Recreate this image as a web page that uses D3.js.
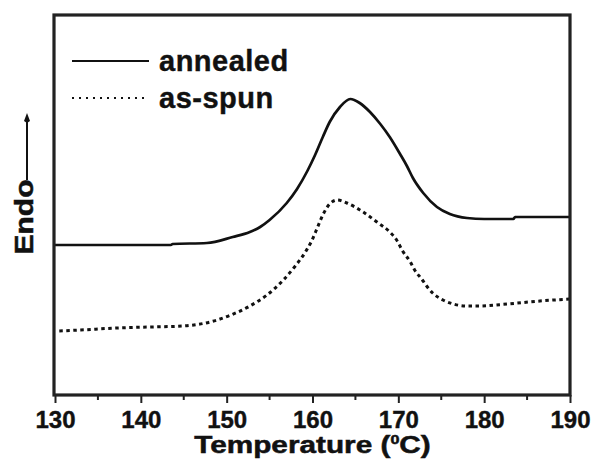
<!DOCTYPE html>
<html>
<head>
<meta charset="utf-8">
<script src="https://cdn.jsdelivr.net/npm/d3@7"></script>
<style>
  body { margin: 0; background: #fff; }
  text { font-family: "Liberation Sans", Arial, sans-serif; font-weight: bold; fill: #111; }
</style>
</head>
<body>
<div id="dsc"></div>
<script>
// annealed curve (temperature, signal in arbitrary units)
let annealedT = [130, 136, 143.5, 143.7, 147.7, 150.7, 152.7, 153.9, 155.0, 157.0, 158.2, 159.4, 160.3, 161.2, 162.0, 163.2, 164.4, 165.5, 166.7, 167.9, 169.0, 170.2, 171.0, 171.7, 172.9, 174.5, 176.0, 178.0, 180.0, 183.4, 183.6, 186, 190];
let annealedV = [15.0, 15.0, 15.0, 15.1, 15.2, 15.8, 16.3, 16.8, 17.5, 19.2, 20.6, 22.4, 24.0, 25.8, 27.3, 28.8, 29.6, 29.2, 28.3, 27.1, 25.8, 24.1, 22.9, 21.7, 20.2, 18.8, 18.1, 17.7, 17.6, 17.6, 17.8, 17.8, 17.8];

// as-spun curve
let asSpunT = [130.5, 133, 137.2, 141, 144.9, 148.9, 150.5, 152.7, 154.7, 156.6, 158.0, 159.1, 159.9, 160.6, 161.2, 162.0, 162.9, 164.0, 165.9, 167.5, 169.0, 169.8, 170.5, 171.4, 171.9, 172.8, 173.3, 174.0, 175.2, 176.4, 178.0, 179.2, 182.7, 186.5, 190];
let asSpunV = [6.4, 6.5, 6.7, 6.8, 6.9, 7.5, 8.0, 8.9, 10.0, 11.5, 12.9, 14.2, 15.4, 16.8, 18.0, 19.1, 19.5, 19.2, 18.3, 17.3, 16.3, 15.5, 14.4, 13.3, 12.5, 11.5, 10.9, 10.2, 9.5, 9.1, 8.9, 8.9, 9.1, 9.4, 9.6];

let majorTicks = [130, 140, 150, 160, 170, 180, 190];
let minorTicks = [135, 145, 155, 165, 175, 185];
let seriesNames = ["annealed", "as-spun"];

let width = 592, height = 467;
let margin = ({top: 15, right: 22, bottom: 72, left: 55});

let x = d3.scaleLinear()
  .domain([130, 190])
  .range([margin.left, width - margin.right]);

let y = d3.scaleLinear()
  .domain([0, 38])
  .range([height - margin.bottom, margin.top]);

const svg = d3.select("#dsc").append("svg")
  .attr("width", width)
  .attr("height", height)
  .attr("viewBox", [0, 0, width, height]);

let line = d3.line()
  .x(d => x(d[0]))
  .y(d => y(d[1]))
  .curve(d3.curveMonotoneX);

let annealed = annealedT.map((t, i) => [t, annealedV[i]]);
let asSpun = asSpunT.map((t, i) => [t, asSpunV[i]]);

svg.append("path")
  .datum(annealed)
  .attr("fill", "none")
  .attr("stroke", "#111")
  .attr("stroke-width", 2.7)
  .attr("d", line);

svg.append("path")
  .datum(asSpun)
  .attr("fill", "none")
  .attr("stroke", "#111")
  .attr("stroke-width", 3)
  .attr("stroke-dasharray", "3.5,3.5")
  .attr("d", line);

// frame
svg.append("rect")
  .attr("x", x(130) - 1)
  .attr("y", y(38))
  .attr("width", x(190) - x(130) + 1)
  .attr("height", y(0) - y(38))
  .attr("fill", "none")
  .attr("stroke", "#222")
  .attr("stroke-width", 3.2);

// x axis
let xAxis = svg.append("g")
  .attr("transform", `translate(0,${y(0)})`)
  .call(d3.axisBottom(x).tickValues(majorTicks).tickSize(8).tickPadding(8).tickFormat(d3.format("d")))
  .call(g => g.select(".domain").remove());
xAxis.selectAll("line").attr("stroke", "#222").attr("stroke-width", 2);
xAxis.selectAll("text")
  .attr("font-size", "24px")
  .attr("font-family", "Liberation Sans, Arial, sans-serif")
  .attr("font-weight", "bold")
  .attr("fill", "#111")
  .attr("stroke", "#111")
  .attr("stroke-width", 0.4);

svg.append("g")
  .attr("transform", `translate(0,${y(0)})`)
  .selectAll("line")
  .data(minorTicks)
  .join("line")
    .attr("x1", d => x(d))
    .attr("x2", d => x(d))
    .attr("y1", 0)
    .attr("y2", 5)
    .attr("stroke", "#222")
    .attr("stroke-width", 2);

// x title
let xt = svg.append("text")
  .attr("transform", `translate(${(x(130) + x(190)) / 2},453) scale(1.24,1)`)
  .attr("text-anchor", "middle")
  .attr("font-size", "24px")
  .attr("stroke", "#111")
  .attr("stroke-width", 0.5);
xt.append("tspan").text("Temperature (");
xt.append("tspan").attr("font-size", "13px").attr("dy", -9).text("0");
xt.append("tspan").attr("dy", 9).text("C)");

// y label with arrow
svg.append("text")
  .attr("transform", `translate(33,217) rotate(-90) scale(1.2,1)`)
  .attr("text-anchor", "middle")
  .attr("font-size", "25px")
  .attr("stroke", "#111")
  .attr("stroke-width", 0.5)
  .text("Endo");

svg.append("line")
  .attr("x1", 27).attr("x2", 27)
  .attr("y1", 180).attr("y2", 118)
  .attr("stroke", "#111")
  .attr("stroke-width", 2);
svg.append("path")
  .attr("d", "M27,113 L30,121 L27,123 L24,121 Z")
  .attr("fill", "#111");

// legend
let legend = svg.append("g")
  .selectAll("g")
  .data(seriesNames)
  .join("g")
    .attr("transform", (d, i) => `translate(72,${61 + i * 37})`);

legend.append("line")
  .attr("x1", 0).attr("x2", 77)
  .attr("stroke", "#111")
  .attr("stroke-width", (d, i) => i == 0 ? 2 : 2.2)
  .attr("stroke-dasharray", (d, i) => i == 0 ? null : "2,5");

legend.append("text")
  .attr("x", 87)
  .attr("y", 10)
  .attr("font-size", "29px")
  .attr("letter-spacing", "0.5px")
  .attr("stroke", "#111")
  .attr("stroke-width", 0.4)
  .text(d => d);
</script>
</body>
</html>
